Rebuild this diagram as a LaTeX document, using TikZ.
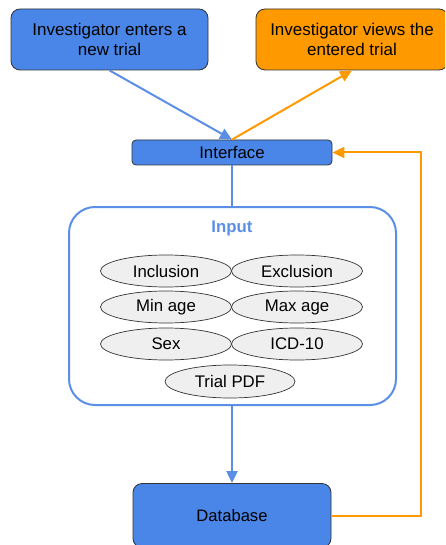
\documentclass[tikz,border=0pt]{standalone}
\usepackage{fontspec}
\setmainfont{Liberation Sans}
\usetikzlibrary{shapes.geometric,arrows.meta}
\definecolor{gblue}{HTML}{4A86E8}
\definecolor{gorange}{HTML}{FF9900}
\definecolor{gline}{HTML}{5B8FE6}
\definecolor{gborder}{HTML}{333333}
\definecolor{gfill}{HTML}{EFEFEF}
\tikzset{
  actor/.style={draw=gborder, line width=0.8pt, rounded corners=9pt, align=center,
    font=\fontsize{17}{20}\selectfont, inner sep=0pt},
  field/.style={ellipse, draw=gborder, line width=0.7pt, fill=gfill,
    minimum width=131pt, minimum height=32pt, inner sep=0pt,
    font=\fontsize{16.8}{18}\selectfont},
  blueflow/.style={draw=gline, line width=2pt},
  orangeflow/.style={draw=gorange, line width=2pt},
  tip/.style={-{Triangle[length=12pt,width=11pt]}},
}
\begin{document}
\begin{tikzpicture}[x=1pt,y=-1pt]
\useasboundingbox (0,0) rectangle (445,545);
\begin{scope}
\clip (0,0) rectangle (445,545);
% actors at the top
\node[actor, fill=gblue, minimum width=197pt, minimum height=61pt] (enter) at (109.5,39.5)
  {Investigator enters a\\new trial};
\node[actor, fill=gorange, minimum width=192pt, minimum height=61pt] (view) at (352,39.5)
  {Investigator views the\\entered trial};
% interface bar
\node[actor, fill=gblue, rounded corners=4pt, minimum width=200pt, minimum height=25pt,
  font=\fontsize{16.8}{18}\selectfont] (iface) at (232,152.5) {Interface};
% input container
\node[draw=gline, line width=2pt, rounded corners=26pt, minimum width=327pt,
  minimum height=198pt, inner sep=0pt] (input) at (232.5,306) {};
\node[text=gline, font=\bfseries\fontsize{16.8}{18}\selectfont] (ititle) at (232,228) {Input};
% input fields
\node[field] (incl) at (166,271) {Inclusion};
\node[field] (excl) at (297,271) {Exclusion};
\node[field] (minage) at (166,307) {Min age};
\node[field] (maxage) at (297,307) {Max age};
\node[field] (sex) at (166,344) {Sex};
\node[field] (icd) at (297,344) {ICD-10};
\node[field, minimum width=130pt, minimum height=33pt] (pdf) at (230,381.5) {Trial PDF};
% database
\node[actor, fill=gblue, minimum width=198pt, minimum height=64pt,
  font=\fontsize{16.6}{20}\selectfont] (db) at (232,515.5) {Database};
% connectors
\draw[blueflow, tip] (enter.south) -- (iface.north);
\draw[orangeflow, tip] (iface.north) -- (view.south);
\draw[blueflow] (iface.south) -- (input.north -| iface.south);
\draw[blueflow, tip] (input.south -| db.north) -- (db.north);
\coordinate (turn) at (421,0);
\draw[orangeflow, tip] (db.east) -- (db.east -| turn) -- (iface.east -| turn) -- (iface.east);
\end{scope}
\end{tikzpicture}
\end{document}
